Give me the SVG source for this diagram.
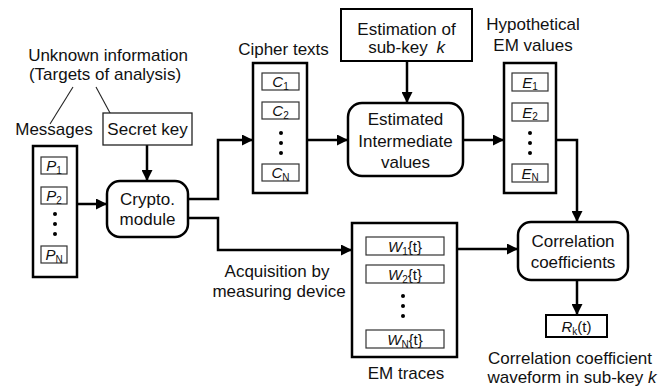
<svg xmlns="http://www.w3.org/2000/svg" width="672" height="386" viewBox="0 0 672 386">
<defs>
<marker id="ah" viewBox="0 0 10 10" refX="10" refY="5" markerWidth="4.4" markerHeight="4.4" markerUnits="strokeWidth" orient="auto">
<path d="M0,0 L10,5 L0,10 z" fill="#000"/>
</marker>
<style>
text{font-family:"Liberation Sans",Arial,sans-serif;font-size:17px;fill:#111;}
.c{text-anchor:middle;}
.cont{fill:#fff;stroke:#000;stroke-width:2.5;}
.sb{fill:#fff;stroke:#333;stroke-width:1.2;}
.rb{fill:#fff;stroke:#000;stroke-width:2.5;}
.thin{fill:none;stroke:#222;stroke-width:1.1;}
.ar{fill:none;stroke:#000;stroke-width:2.5;marker-end:url(#ah);}
.lab{font-size:15px;text-anchor:middle;}
.it{font-style:italic;}
.sub{font-size:10px;}
.dot{fill:#000;}
</style>
</defs>

<g id="connectors">
<line class="thin" x1="73" y1="87" x2="50" y2="124"/>
<line class="thin" x1="96" y1="87" x2="116" y2="124"/>
<line class="ar" x1="147" y1="145" x2="147" y2="181"/>
<line class="ar" x1="77" y1="204" x2="107" y2="204"/>
<path class="ar" d="M188,199 H218 V140 H253"/>
<path class="ar" d="M188,218 H218 V250 H352"/>
<line class="ar" x1="307" y1="140" x2="348" y2="140"/>
<line class="ar" x1="407" y1="61" x2="407" y2="103"/>
<line class="ar" x1="463" y1="140" x2="504" y2="140"/>
<path class="ar" d="M556,140 H577 V222"/>
<line class="ar" x1="457" y1="249" x2="518" y2="249"/>
<line class="ar" x1="577" y1="280" x2="577" y2="315"/>
</g>

<g id="unknown-info">
<text class="c" x="108" y="61">Unknown information</text>
<text class="c" x="105" y="80">(Targets of analysis)</text>
</g>

<g id="messages">
<text class="c" x="54" y="135">Messages</text>
<rect class="cont" x="33" y="146" width="44" height="131"/>
<rect class="sb" x="41" y="157" width="26" height="17"/>
<text class="lab" x="54" y="171"><tspan class="it">P</tspan><tspan class="sub" dy="3">1</tspan></text>
<rect class="sb" x="41" y="187" width="26" height="17"/>
<text class="lab" x="54" y="201"><tspan class="it">P</tspan><tspan class="sub" dy="3">2</tspan></text>
<circle class="dot" cx="55" cy="214" r="2"/>
<circle class="dot" cx="55" cy="224" r="2"/>
<circle class="dot" cx="55" cy="234" r="2"/>
<rect class="sb" x="41" y="246" width="26" height="17"/>
<text class="lab" x="54" y="260"><tspan class="it">P</tspan><tspan class="sub" dy="3">N</tspan></text>
</g>

<g id="secret-key">
<rect x="103" y="113" width="89" height="32" fill="#fff" stroke="#222" stroke-width="1.3"/>
<text class="c" x="147.5" y="135">Secret key</text>
</g>

<g id="crypto-module">
<rect class="rb" x="107" y="181" width="81" height="56" rx="13"/>
<text class="c" x="147.5" y="205">Crypto.</text>
<text class="c" x="147.5" y="225">module</text>
</g>

<g id="cipher-texts">
<text class="c" x="283.5" y="55">Cipher texts</text>
<rect class="cont" x="253" y="63" width="54" height="130"/>
<rect class="sb" x="262" y="73" width="37" height="17"/>
<text class="lab" x="280.5" y="87"><tspan class="it">C</tspan><tspan class="sub" dy="3">1</tspan></text>
<rect class="sb" x="262" y="102" width="37" height="17"/>
<text class="lab" x="280.5" y="116"><tspan class="it">C</tspan><tspan class="sub" dy="3">2</tspan></text>
<circle class="dot" cx="281" cy="133" r="2"/>
<circle class="dot" cx="281" cy="143" r="2"/>
<circle class="dot" cx="281" cy="153" r="2"/>
<rect class="sb" x="262" y="164" width="37" height="17"/>
<text class="lab" x="280.5" y="178"><tspan class="it">C</tspan><tspan class="sub" dy="3">N</tspan></text>
</g>

<g id="estimation-subkey">
<rect x="341" y="9" width="131" height="52" fill="#fff" stroke="#000" stroke-width="2"/>
<text class="c" x="406.5" y="35">Estimation of</text>
<text class="c" x="406.5" y="53">sub-key <tspan class="it" dx="4">k</tspan></text>
</g>

<g id="estimated-intermediate">
<rect class="rb" x="348" y="103" width="115" height="73" rx="14"/>
<text class="c" x="405.5" y="125">Estimated</text>
<text class="c" x="405.5" y="147">Intermediate</text>
<text class="c" x="405.5" y="168">values</text>
</g>

<g id="hypothetical-em">
<text class="c" x="533" y="30">Hypothetical</text>
<text class="c" x="533" y="51">EM values</text>
<rect class="cont" x="504" y="63" width="52" height="130"/>
<rect class="sb" x="512" y="73" width="36" height="18"/>
<text class="lab" x="530" y="88"><tspan class="it">E</tspan><tspan class="sub" dy="2">1</tspan></text>
<rect class="sb" x="512" y="103" width="36" height="18"/>
<text class="lab" x="530" y="118"><tspan class="it">E</tspan><tspan class="sub" dy="2">2</tspan></text>
<circle class="dot" cx="530" cy="133" r="2"/>
<circle class="dot" cx="530" cy="143" r="2"/>
<circle class="dot" cx="530" cy="153" r="2"/>
<rect class="sb" x="512" y="164" width="36" height="18"/>
<text class="lab" x="530" y="179"><tspan class="it">E</tspan><tspan class="sub" dy="2">N</tspan></text>
</g>

<g id="acquisition-label">
<text class="c" x="277" y="277">Acquisition by</text>
<text class="c" x="279" y="297">measuring device</text>
</g>

<g id="em-traces">
<rect class="cont" x="352" y="223" width="105" height="134"/>
<rect class="sb" x="366" y="237" width="78" height="18"/>
<text class="lab" x="405" y="252"><tspan class="it">W</tspan><tspan class="sub" dy="3">1</tspan><tspan dy="-3">{t}</tspan></text>
<rect class="sb" x="366" y="265" width="78" height="18"/>
<text class="lab" x="405" y="280"><tspan class="it">W</tspan><tspan class="sub" dy="3">2</tspan><tspan dy="-3">{t}</tspan></text>
<circle class="dot" cx="403" cy="296" r="2"/>
<circle class="dot" cx="403" cy="306" r="2"/>
<circle class="dot" cx="403" cy="316" r="2"/>
<rect class="sb" x="366" y="330" width="78" height="18"/>
<text class="lab" x="405" y="345"><tspan class="it">W</tspan><tspan class="sub" dy="3">N</tspan><tspan dy="-3">{t}</tspan></text>
<text class="c" x="406" y="379">EM traces</text>
</g>

<g id="correlation">
<rect class="rb" x="518" y="222" width="110" height="58" rx="13"/>
<text class="c" x="573" y="247">Correlation</text>
<text class="c" x="573" y="268">coefficients</text>
</g>

<g id="rk">
<rect x="546" y="315" width="61" height="22" fill="#fff" stroke="#000" stroke-width="2"/>
<text class="lab" x="576.5" y="332"><tspan class="it">R</tspan><tspan class="sub" dy="3">k</tspan><tspan dy="-3">(t)</tspan></text>
<text class="c" x="570" y="364">Correlation coefficient</text>
<text class="c" x="572" y="383">waveform in sub-key <tspan class="it">k</tspan></text>
</g>
</svg>
